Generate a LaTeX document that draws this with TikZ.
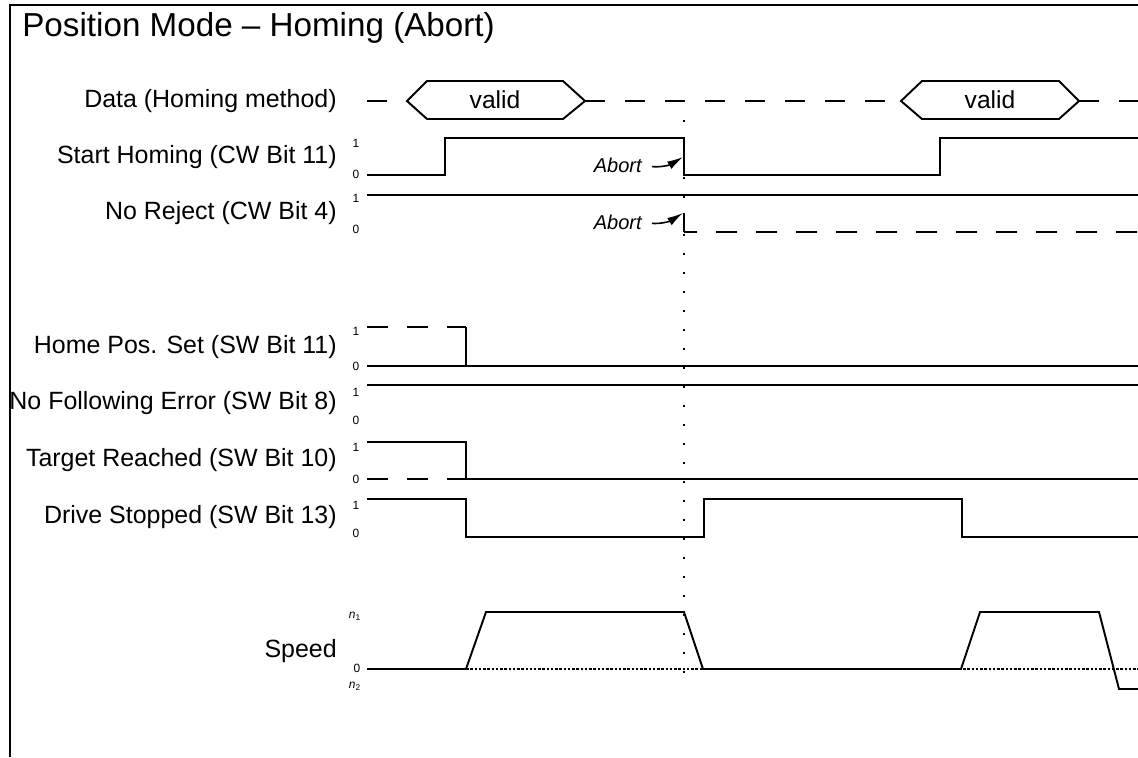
\documentclass[tikz,border=0pt]{standalone}
\usepackage{fontspec}
\setmainfont{Liberation Sans}
\usetikzlibrary{arrows.meta}
\tikzset{
  wave/.style  = {draw=black, line width=1.1pt, line join=miter},
  dwave/.style = {wave, dash pattern=on 0.42cm off 0.38cm},
  vdot/.style  = {draw=black, line width=1.2pt, dash pattern=on 0.04cm off 0.34cm},
  zline/.style = {draw=black, line width=0.7pt, dash pattern=on 0.05cm off 0.035cm},
  ar/.style    = {-{Latex[length=0.32cm, width=0.17cm]}, draw=black, line width=0.9pt}
}
\begin{document}
\begin{tikzpicture}[
    x=0.02cm, y=-0.02cm,
    siglab/.style={anchor=east, inner sep=0pt, font=\fontsize{14.2}{16}\selectfont},
    lvl/.style={inner sep=0pt, font=\fontsize{6.8}{8}\selectfont},
    abt/.style={anchor=east, inner sep=0pt, font=\fontsize{11.4}{13}\selectfont\itshape}
  ]
  \useasboundingbox (0,0) rectangle (1138,757);
  % ===================== frame and title =====================
  \draw[line width=1.1pt] (10,757) -- (10,5) -- (1138,5);
  \node[anchor=base west, inner sep=0pt, font=\fontsize{18.9}{22}\selectfont]
    (title) at (22,37) {Position Mode -- Homing (Abort)};

  % ===================== signal names =====================
  \node[siglab] (lData)   at (337,101) {Data (Homing method)};
  \node[siglab] (lStart)  at (337,157) {Start Homing (CW Bit 11)};
  \node[siglab] (lReject) at (337,213) {No Reject (CW Bit 4)};
  \node[siglab] (lHome)   at (337,347) {Home Pos. Set (SW Bit 11)};
  \node[siglab] (lFollow) at (337,403) {No Following Error (SW Bit 8)};
  \node[siglab] (lTarget) at (337,460) {Target Reached (SW Bit 10)};
  \node[siglab] (lStop)   at (337,517) {Drive Stopped (SW Bit 13)};
  \node[siglab] (lSpeed)  at (337,651) {Speed};

  % ===================== levels 1 / 0 =====================
  \node[lvl] (s1) at (356,143) {1};  \node[lvl] (s0) at (356,174) {0};
  \node[lvl] (r1) at (356,198) {1};  \node[lvl] (r0) at (356,229) {0};
  \node[lvl] (h1) at (356,331) {1};  \node[lvl] (h0) at (356,366) {0};
  \node[lvl] (f1) at (356,392) {1};  \node[lvl] (f0) at (356,420) {0};
  \node[lvl] (t1) at (356,447) {1};  \node[lvl] (t0) at (356,479) {0};
  \node[lvl] (d1) at (356,505) {1};  \node[lvl] (d0) at (356,533) {0};
  \node[lvl] (n1) at (355,616) {\textit{n}\textsubscript{1}};
  \node[lvl] (n0) at (357,668) {0};
  \node[lvl] (n2) at (355,686) {\textit{n}\textsubscript{2}};

  % ===================== data (homing method) =====================
  \draw[wave] (407,101) -- (427,81) -- (563,81) -- (585,101) -- (563,119) -- (427,119) -- cycle;
  \draw[wave] (901,101) -- (922,81) -- (1059,81) -- (1079,101) -- (1059,119) -- (922,119) -- cycle;
  \node[font=\fontsize{14}{16}\selectfont] (valid1) at (495,100) {valid};
  \node[font=\fontsize{14}{16}\selectfont] (valid2) at (990,100) {valid};
  \draw[wave, dash pattern=on 0.4cm off 0.4cm] (367,101) -- (407,101);
  \draw[wave, dash pattern=on 0.4cm off 0.4cm] (585,101) -- (901,101);
  \draw[wave, dash pattern=on 0.4cm off 0.4cm] (1079,101) -- (1138,101);

  % ===================== control word =====================
  \draw[wave] (367,175) -- (445,175) -- (445,138) -- (684,138) -- (684,175)
              -- (940,175) -- (940,138) -- (1138,138);
  \draw[wave] (367,195) -- (1138,195);
  \draw[wave] (684,213) -- (684,232);
  \draw[dwave, dash phase=0.16cm] (684,232) -- (1138,232);

  % abort marks
  \coordinate (cut1) at (683,157);
  \coordinate (cut2) at (683,213);
  \node[abt] (abort1) at (642,165) {Abort};
  \node[abt] (abort2) at (642,222) {Abort};
  \draw[ar, shorten <=0.2cm] (abort1.east) to[bend right=20] (cut1);
  \draw[ar, shorten <=0.2cm] (abort2.east) to[bend right=20] (cut2);

  % ===================== status word =====================
  \draw[dwave] (367,327) -- (466,327);
  \draw[wave] (466,327) -- (466,366);
  \draw[wave] (367,366) -- (1138,366);
  \draw[wave] (367,385) -- (1138,385);
  \draw[wave] (367,442) -- (466,442) -- (466,479) -- (1138,479);
  \draw[dwave] (367,479) -- (466,479);
  \draw[wave] (367,499) -- (466,499) -- (466,537) -- (704,537) -- (704,499)
              -- (962,499) -- (962,537) -- (1138,537);

  % ===================== speed =====================
  \draw[zline] (466,669) -- (1138,669);
  \draw[wave] (367,669) -- (466,669) -- (486,612) -- (684,612) -- (703,669)
              -- (961,669) -- (980,612) -- (1099,612) -- (1119,689) -- (1138,689);

  % abort instant
  \draw[vdot] (684,120) -- (684,680);
\end{tikzpicture}
\end{document}
